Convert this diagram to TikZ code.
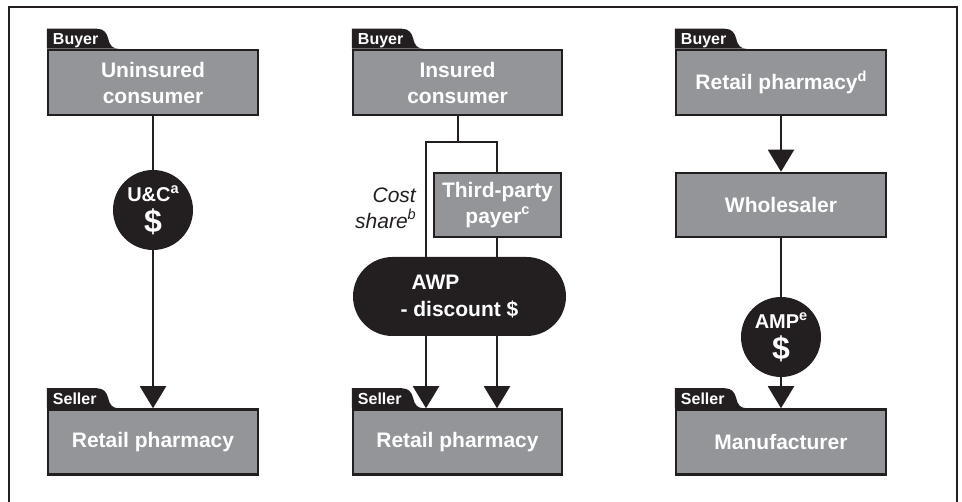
\documentclass[tikz,border=0pt]{standalone}
\usepackage{fontspec}
\setmainfont{Liberation Sans}
\usetikzlibrary{arrows.meta}

\definecolor{ink}{HTML}{231F20}
\definecolor{boxgray}{HTML}{939598}

% raised footnote letter
\newcommand\supx[1]{\raisebox{0.42em}{\fontsize{14.5}{14.5}\selectfont #1}}
% large dollar sign inside the price discs
\newcommand\bigdollar{{\fontsize{32}{32}\selectfont\$}}

\tikzset{
  party/.style={draw=ink, line width=2.5pt, fill=boxgray, text=white,
    font=\bfseries\fontsize{21}{26}\selectfont, align=center, inner sep=0pt,
    minimum height=65pt, minimum width=210pt},
  price/.style={circle, fill=ink, text=white, minimum size=80pt, inner sep=0pt,
    align=center, font=\bfseries\fontsize{20}{31}\selectfont},
  pill/.style={rectangle, rounded corners=39.5pt, fill=ink, text=white,
    minimum width=213pt, minimum height=79pt, inner sep=0pt, align=left,
    font=\bfseries\fontsize{21}{27}\selectfont},
  flow/.style={draw=ink, line width=2pt},
  pay/.style={flow, -{Triangle[width=26pt,length=22pt]}},
  pics/tab/.style={code={
    \fill[ink] (0,0) -- (0,-20) -- (50,-20)
      .. controls (57,-20) and (60,-16) .. (61.5,-10)
      .. controls (63,-3) and (66,0) .. (72,0) -- cycle;
    \node[anchor=base west, inner sep=0pt, text=white,
      font=\bfseries\fontsize{16}{16}\selectfont] (-label) at (6,-4) {#1};
  }}
}

\begin{document}
\begin{tikzpicture}[x=1pt, y=-1pt]
\useasboundingbox (0,0) rectangle (962,502);

% outer frame, open at the bottom
\draw[ink, line width=2pt] (9,502) -- (9,7) -- (957,7) -- (957,502);

% ---- uninsured purchase ----
\node[party] (unins) at (153,82.5) {Uninsured\\consumer};
\node[party] (sell1) at (153,442) {Retail pharmacy};
\node[price] (uc) at (153,210) {U\&C\supx{a}\\\bigdollar};
\pic (tb1) at (unins.north west) {tab=Buyer};
\pic (ts1) at (sell1.north west) {tab=Seller};
\draw[flow] (unins) -- (uc);
\draw[pay] (uc) -- (sell1);

% ---- insured purchase ----
\node[party, minimum width=209pt] (ins) at (457.5,82.5) {Insured\\consumer};
\node[party, minimum width=127pt, minimum height=64pt] (tpp) at (497.5,205) {Third-party\\payer\supx{c}};
\node[pill] (awp) at (459.5,296.5) {\hspace*{11pt}AWP\\- discount \$};
\node[party, minimum width=209pt] (sell2) at (457.5,442) {Retail pharmacy};
\node[anchor=east, align=right, inner sep=0pt, text=ink,
  font=\itshape\fontsize{21}{26}\selectfont] (cs) at (416,208) {Cost\\share\supx{b}};
\pic (tb2) at (ins.north west) {tab=Buyer};
\pic (ts2) at (sell2.north west) {tab=Seller};
\coordinate (jl) at (426,142);
\coordinate (jr) at (497,142);
\draw[flow] (ins.south) -- (ins.south |- jl);
\draw[flow] (jl |- awp.north) -- (jl) -- (jr) -- (jr |- tpp.north);
\draw[flow] (jr |- tpp.south) -- (jr |- awp.north);
\draw[pay] (jl |- awp.south) -- (jl |- sell2.north);
\draw[pay] (jr |- awp.south) -- (jr |- sell2.north);

% ---- manufacturer sale ----
\node[party] (rp3) at (781,82.5) {Retail pharmacy\supx{d}};
\node[party, minimum height=64pt] (whole) at (781,205) {Wholesaler};
\node[price] (amp) at (781,337) {AMP\supx{e}\\\bigdollar};
\node[party] (man) at (781,442) {Manufacturer};
\pic (tb3) at (rp3.north west) {tab=Buyer};
\pic (ts3) at (man.north west) {tab=Seller};
\draw[pay] (rp3) -- (whole);
\draw[flow] (whole) -- (amp);
\draw[pay] (amp) -- (man);
\end{tikzpicture}
\end{document}
